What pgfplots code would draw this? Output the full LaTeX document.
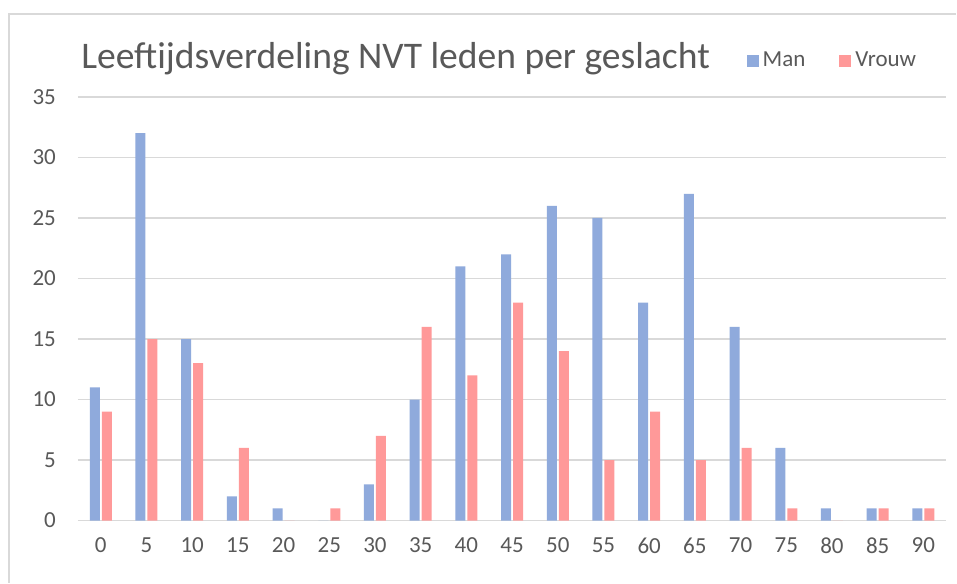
\documentclass[border=0pt]{standalone}
\usepackage{pgfplots}
\pgfplotsset{compat=1.18}
\usepackage{fontspec}
\setmainfont{Carlito}
\definecolor{manblue}{HTML}{8FAADC}
\definecolor{vrouwpink}{HTML}{FF9999}
\definecolor{txtgray}{HTML}{595959}
\definecolor{gridgray}{HTML}{D9D9D9}
\begin{document}
\begin{tikzpicture}[x=1pt,y=1pt]
\path[fill=white] (0,0) rectangle (478.5,291.5);
\draw[gridgray, line width=0.8pt] (4.5,0) -- (4.5,284.5) -- (478.5,284.5);
\node[anchor=base west, inner sep=0pt, text=txtgray, font=\fontsize{18.8}{20}\selectfont] at (40.5,257) {Leeftijdsverdeling NVT leden per geslacht};
\begin{axis}[
  at={(39pt,31pt)}, anchor=south west,
  scale only axis, width=434.5pt, height=212pt,
  xmin=-0.5, xmax=18.5, ymin=0, ymax=35,
  xtick={0,...,18},
  xticklabels={0,5,10,15,20,25,30,35,40,45,50,55,60,65,70,75,80,85,90},
  ytick={0,5,...,35},
  ymajorgrids, grid style={gridgray, line width=0.8pt},
  axis line style={draw=none},
  major tick length=0pt,
  /pgf/number format/assume math mode=true,
  tick label style={text=txtgray, font=\fontsize{11.5}{13}\selectfont},
  xticklabel style={yshift=-5pt},
  yticklabel style={xshift=-7.5pt},
  ybar, bar width=5pt,
  legend style={at={(0.7698,1.085)}, anchor=west, draw=none, fill=none, inner sep=0pt,
    font=\fontsize{11.5}{13}\selectfont, text=txtgray,
    legend columns=2,
    /tikz/every even column/.append style={column sep=15pt},
    nodes={inner sep=2pt}},
  legend image code/.code={\fill[#1] (0pt,-3pt) rectangle (6pt,3pt);},
]
\addplot[fill=manblue, draw=none, bar shift=-3pt] coordinates {
(0,11) (1,32) (2,15) (3,2) (4,1) (5,0) (6,3) (7,10) (8,21) (9,22) (10,26) (11,25) (12,18) (13,27) (14,16) (15,6) (16,1) (17,1) (18,1)};
\addplot[fill=vrouwpink, draw=none, bar shift=3pt] coordinates {
(0,9) (1,15) (2,13) (3,6) (4,0) (5,1) (6,7) (7,16) (8,12) (9,18) (10,14) (11,5) (12,9) (13,5) (14,6) (15,1) (16,0) (17,1) (18,1)};
\legend{Man,Vrouw}
\end{axis}
\end{tikzpicture}
\end{document}
